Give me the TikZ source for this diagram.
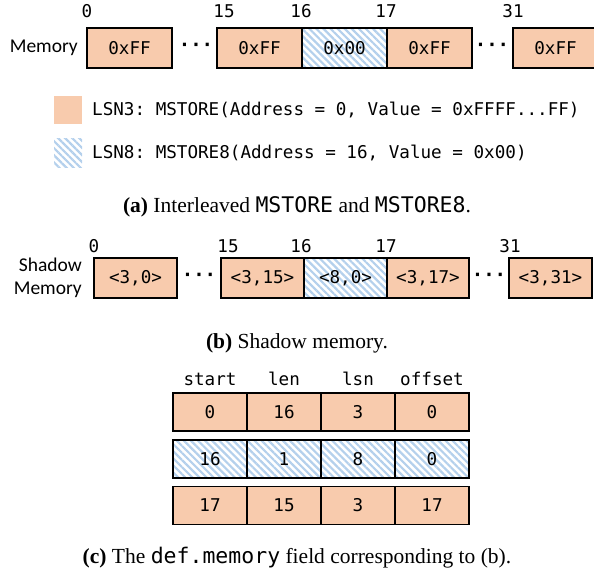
\documentclass[tikz,border=0pt]{standalone}
\usepackage{fontspec}
\setmainfont{Liberation Serif}
\setsansfont{Carlito}
\setmonofont{DejaVu Sans Mono}
\usetikzlibrary{patterns.meta}
\definecolor{orng}{HTML}{F8CBAD}
\definecolor{hatchc}{HTML}{B4D0EC}
\newcommand\dmono{\fontsize{17.6}{20}\ttfamily}
\newcommand\mydotsfnt{\fontsize{19}{20}\ttfamily\bfseries}
\newcommand\dsans{\fontsize{19.5}{23}\sffamily}
\newcommand\dcap{\fontsize{21.5}{25}\rmfamily}
\begin{document}
\begin{tikzpicture}[x=1pt,y=-1pt,
  cell/.style={draw=black,line width=1.5pt,minimum height=40pt,inner sep=0pt,font=\dmono},
  org/.style={fill=orng},
  hat/.style={pattern={Lines[angle=-45,distance=5pt,line width=2.2pt]},pattern color=hatchc},
  idx/.style={inner sep=0pt,font=\dmono},
  lbl/.style={inner sep=0pt,font=\dsans},
  dots/.style={inner sep=0pt,font=\mydotsfnt},
  captxt/.style={inner sep=0pt,font=\dcap},
  tcell/.style={draw=black,line width=1.5pt,minimum width=74pt,minimum height=38pt,inner sep=0pt,font=\dmono}]
\useasboundingbox (0,0) rectangle (594,575);
% (a)
\node[lbl,anchor=east] (memlbl) at (78,48) {Memory};
\node[cell,org,minimum width=85pt] (a1) at (129.5,48) {0xFF};
\node[dots] (ad1) at (196,47) {···};
\node[cell,org,minimum width=85pt] (a2) at (259.5,48) {0xFF};
\node[cell,hat,minimum width=85pt] (a3) at (344.5,48) {0x00};
\node[cell,org,minimum width=85pt] (a4) at (429.5,48) {0xFF};
\node[dots] (ad2) at (492,47) {···};
\node[cell,org,minimum width=85pt] (a5) at (555.5,48) {0xFF};
\node[idx] (ai0) at (87,11) {0};
\node[idx] (ai15) at (224,11) {15};
\node[idx] (ai16) at (301,11) {16};
\node[idx] (ai17) at (386,11) {17};
\node[idx] (ai31) at (513,11) {31};
% legend
\node[org,minimum size=28pt,inner sep=0pt] (lg1) at (68,110) {};
\node[hat,minimum size=28pt,inner sep=0pt] (lg2) at (68,153) {};
\node[idx,anchor=west] (lt1) at (92,110) {LSN3: MSTORE(Address = 0, Value = 0xFFFF...FF)};
\node[idx,anchor=west] (lt2) at (92,153) {LSN8: MSTORE8(Address = 16, Value = 0x00)};
\node[captxt] (capa) at (297,207) {\textbf{(a)} Interleaved {\ttfamily MSTORE} and {\ttfamily MSTORE8}.};
% (b)
\node[lbl,anchor=east,align=right] (shlbl) at (82,278) {Shadow\\Memory};
\node[cell,org,minimum width=83pt] (b1) at (135.5,278) {<3,0>};
\node[dots] (bd1) at (199,277) {···};
\node[cell,org,minimum width=83pt] (b2) at (262.5,278) {<3,15>};
\node[cell,hat,minimum width=83pt] (b3) at (345.5,278) {<8,0>};
\node[cell,org,minimum width=82pt] (b4) at (428,278) {<3,17>};
\node[dots] (bd2) at (489,277) {···};
\node[cell,org,minimum width=83pt] (b5) at (550.5,278) {<3,31>};
\node[idx] (bi0) at (94,246) {0};
\node[idx] (bi15) at (228,246) {15};
\node[idx] (bi16) at (301,246) {16};
\node[idx] (bi17) at (386,246) {17};
\node[idx] (bi31) at (510,246) {31};
\node[captxt] (capb) at (297,343) {\textbf{(b)} Shadow memory.};
% (c)
\node[idx] (h1) at (210,379) {start};
\node[idx] (h2) at (284,379) {len};
\node[idx] (h3) at (358,379) {lsn};
\node[idx] (h4) at (432,379) {offset};
\node[tcell,org] (r11) at (210,412) {0};
\node[tcell,org] (r12) at (284,412) {16};
\node[tcell,org] (r13) at (358,412) {3};
\node[tcell,org] (r14) at (432,412) {0};
\node[tcell,hat] (r21) at (210,459) {16};
\node[tcell,hat] (r22) at (284,459) {1};
\node[tcell,hat] (r23) at (358,459) {8};
\node[tcell,hat] (r24) at (432,459) {0};
\node[tcell,org] (r31) at (210,505.5) {17};
\node[tcell,org] (r32) at (284,505.5) {15};
\node[tcell,org] (r33) at (358,505.5) {3};
\node[tcell,org] (r34) at (432,505.5) {17};
\node[captxt] (capc) at (297,558) {\textbf{(c)} The {\ttfamily def.memory} field corresponding to (b).};
\end{tikzpicture}
\end{document}
